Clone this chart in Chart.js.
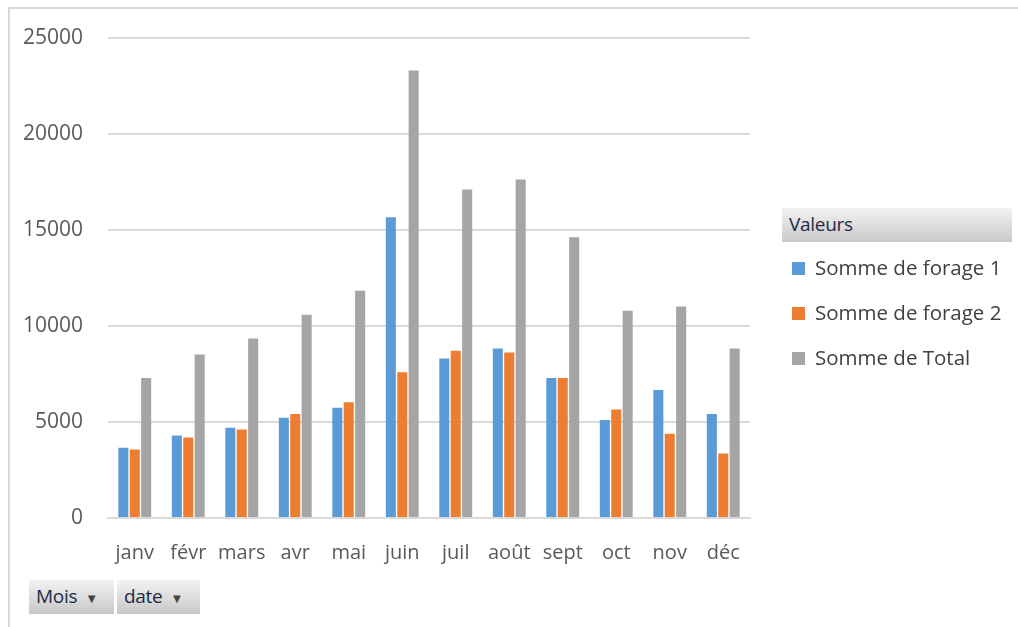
<!DOCTYPE html>
<html>
<head>
<meta charset="utf-8">
<script src="https://cdn.jsdelivr.net/npm/chart.js@4"></script>
<style>
  body { margin: 0; background: #fff; font-family: 'Open Sans', sans-serif; }
  #wrap { position: absolute; left: 0; top: 0; width: 1018px; height: 627px; overflow: hidden; }
  #frame { position: absolute; left: 8px; top: 7px; width: 1030px; height: 640px; border: 2px solid #d9d9d9; box-sizing: border-box; }
  canvas { position: absolute; left: 0; top: 0; }
  .btn { position: absolute; height: 34px; line-height: 33px; font-size: 19px; color: #1f2a44;
         background: linear-gradient(#f2f2f2, #c8c8c8); box-sizing: border-box; padding-left: 7px; letter-spacing: -0.3px; }
  .btn span { font-size: 13px; color: #444; margin-left: 8px; }
</style>
</head>
<body>
<div id="wrap">
  <div id="frame"></div>
  <canvas id="myChart" width="1018" height="627"></canvas>
  <div class="btn" style="left:782px;top:208px;width:230px;">Valeurs</div>
  <div class="btn" style="left:29px;top:580px;width:85px;">Mois<span>▼</span></div>
  <div class="btn" style="left:117px;top:580px;width:83px;">date<span>▼</span></div>
</div>
<script>
const mois = ['janv', 'févr', 'mars', 'avr', 'mai', 'juin', 'juil', 'août', 'sept', 'oct', 'nov', 'déc'];
const forage1 = [3650, 4290, 4700, 5220, 5740, 15650, 8300, 8820, 7280, 5100, 6660, 5410];
const forage2 = [3560, 4190, 4600, 5410, 6030, 7590, 8710, 8610, 7280, 5640, 4390, 3360];
const total = [7280, 8510, 9340, 10580, 11830, 23290, 17100, 17620, 14610, 10790, 11000, 8820];

const ctx = document.querySelector('#myChart');

// legende dessinee a la main, a droite
const legendeDroite = {
    id: 'legendeDroite',
    afterDraw(chart) {
        const c = chart.ctx;
        c.save();
        c.font = '20.5px "Open Sans"';
        c.textBaseline = 'middle';
        chart.data.datasets.forEach((ds, i) => {
            const y = 268 + i * 45;
            c.fillStyle = ds.backgroundColor;
            c.fillRect(792, y - 6, 13, 13);
            c.fillStyle = '#404040';
            c.fillText(ds.label, 815, y + 1);
        });
        c.restore();
    }
};

new Chart(ctx, {
    type: 'bar',
    data: {
        labels: mois,
        datasets: [
            { label: 'Somme de forage 1', data: forage1, backgroundColor: '#5b9bd5' },
            { label: 'Somme de forage 2', data: forage2, backgroundColor: '#ed7d31' },
            { label: 'Somme de Total', data: total, backgroundColor: '#a5a5a5' }
        ]
    },
    options: {
        responsive: false,
        animation: false,
        categoryPercentage: 0.64,
        barPercentage: 0.88,
        layout: { padding: { left: 8, right: 268, top: 36, bottom: 59 } },
        plugins: {
            legend: { display: false },
            tooltip: { enabled: false }
        },
        scales: {
            x: {
                grid: { display: false },
                border: { color: '#d9d9d9', width: 2 },
                ticks: { color: '#595959', font: { family: 'Open Sans', size: 20 }, padding: 15, maxRotation: 0 },
                afterFit: (s) => { s.height = 50; }
            },
            y: {
                min: 0,
                max: 25000,
                ticks: {
                    stepSize: 5000, color: '#595959', font: { family: 'Open Sans', size: 21 }, padding: 25,
                    callback: (v) => String(v)
                },
                grid: { color: '#d9d9d9', lineWidth: 2, drawTicks: false },
                border: { display: false },
                afterFit: (s) => { s.width = 100; }
            }
        }
    },
    plugins: [legendeDroite]
});
</script>
</body>
</html>
